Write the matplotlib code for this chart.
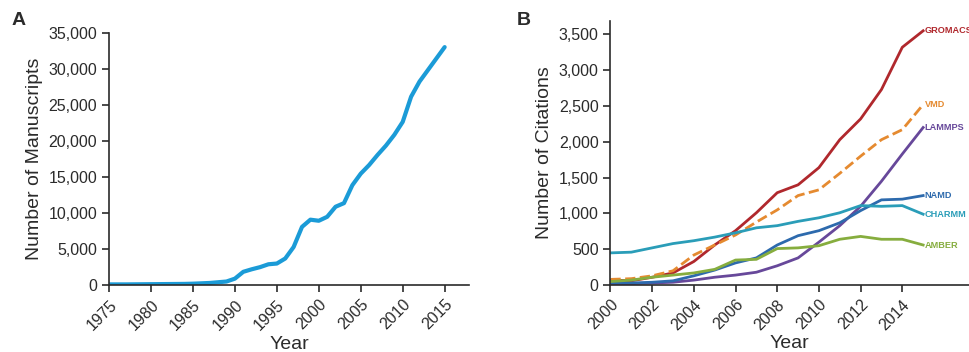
import numpy as np
import matplotlib.pyplot as plt
from matplotlib.ticker import FuncFormatter

# Panel A: manuscripts per year
years_a = list(range(1975, 2016))
manuscripts = [100, 100, 100, 110, 120, 130, 140, 150, 160, 170,
               200, 250, 300, 400, 500, 900, 1850, 2200, 2500, 2900,
               3000, 3700, 5300, 8100, 9100, 8950, 9500, 10900, 11400, 13900,
               15500, 16700, 18100, 19400, 20900, 22700, 26200, 28300, 29900, 31500,
               33100]

# Panel B: citations per package
years_b = list(range(2000, 2016))
gromacs = [70, 60, 110, 170, 330, 560, 760, 1010, 1290, 1400, 1640, 2030, 2320, 2730, 3320, 3550]
vmd = [80, 90, 130, 200, 420, 560, 700, 880, 1050, 1250, 1330, 1560, 1800, 2030, 2170, 2520]
lammps = [10, 20, 30, 40, 70, 110, 140, 180, 270, 380, 600, 830, 1100, 1450, 1830, 2200]
namd = [30, 30, 40, 60, 130, 210, 310, 380, 560, 690, 760, 870, 1040, 1190, 1200, 1250]
charmm = [450, 460, 520, 580, 620, 670, 730, 800, 830, 890, 940, 1010, 1110, 1100, 1110, 990]
amber = [50, 70, 110, 140, 170, 220, 350, 360, 510, 520, 550, 640, 680, 640, 640, 560]

plt.rcParams['font.family'] = ['Liberation Sans', 'DejaVu Sans']
ink = '#2b2b2b'
comma = FuncFormatter(lambda v, p: f'{int(v):,}')

fig = plt.figure(figsize=(9.69, 3.52), dpi=100)
ax_a = fig.add_axes([0.1125, 0.19, 0.3715, 0.715])
ax_b = fig.add_axes([0.630, 0.19, 0.370, 0.751])

for ax in (ax_a, ax_b):
    for side in ('top', 'right'):
        ax.spines[side].set_visible(False)
    for side in ('left', 'bottom'):
        ax.spines[side].set_color(ink)
        ax.spines[side].set_linewidth(1.2)
    ax.tick_params(direction='out', length=5, width=1.2, color=ink,
                   labelcolor=ink, labelsize=11.5)
    ax.yaxis.set_major_formatter(comma)

# Panel A
ax_a.plot(years_a, manuscripts, color='#1b9bd7', lw=3, solid_capstyle='round')
ax_a.set_xlim(1975, 2017.9)
ax_a.set_ylim(0, 35000)
ax_a.set_xticks(range(1975, 2016, 5))
ax_a.set_yticks(range(0, 35001, 5000))
plt.setp(ax_a.get_xticklabels(), rotation=45, ha='right', rotation_mode='anchor')
ax_a.set_xlabel('Year', fontsize=14, color=ink, labelpad=2)
ax_a.set_ylabel('Number of Manuscripts', fontsize=14, color=ink)
fig.text(0.012, 0.93, 'A', fontsize=14, fontweight='bold', color=ink)

# Panel B
series = [('GROMACS', gromacs, '#b0282d', '-'),
          ('VMD', vmd, '#e58a30', '--'),
          ('LAMMPS', lammps, '#67489a', '-'),
          ('NAMD', namd, '#2d6aad', '-'),
          ('CHARMM', charmm, '#2a9db8', '-'),
          ('AMBER', amber, '#86ad3e', '-')]
for name, vals, col, ls in series:
    ax_b.plot(years_b, vals, color=col, lw=2, ls=ls)
    ax_b.annotate(name, (years_b[-1], vals[-1]), xytext=(1, 0),
                  textcoords='offset points', va='center', ha='left',
                  fontsize=6.6, fontweight='bold', color=col, annotation_clip=False)
ax_b.set_xlim(2000, 2017.2)
ax_b.set_ylim(0, 3690)
ax_b.set_xticks(range(2000, 2015, 2))
ax_b.set_yticks(range(0, 3501, 500))
plt.setp(ax_b.get_xticklabels(), rotation=45, ha='right', rotation_mode='anchor')
ax_b.set_xlabel('Year', fontsize=14, color=ink, labelpad=2)
ax_b.set_ylabel('Number of Citations', fontsize=14, color=ink)
fig.text(0.533, 0.93, 'B', fontsize=14, fontweight='bold', color=ink)

fig.savefig('out.png', dpi=100)
